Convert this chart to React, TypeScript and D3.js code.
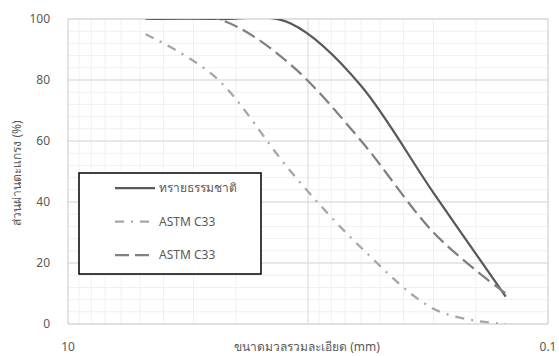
import * as d3 from "d3";
import React from "react";

const width = 559;
const height = 356;
const margin = { top: 19, right: 11, bottom: 32, left: 68 };

// sieve sizes (mm)
const sieves = [4.75, 2.36, 1.18, 0.6, 0.3, 0.15];
const naturalSand = [100, 100, 98.5, 78, 43, 9];
const astmLower = [95, 80, 50, 25, 5, 0];
const astmUpper = [100, 100, 85, 60, 30, 10];

const yTicks = [0, 20, 40, 60, 80, 100];
const xLabels = [10, 0.1];

const series = [
  { name: "ทรายธรรมชาติ", values: naturalSand, color: "#595959", dash: "none" },
  { name: "ASTM C33", values: astmLower, color: "#a6a6a6", dash: "9,7,2,7" },
  { name: "ASTM C33", values: astmUpper, color: "#808080", dash: "14,6" },
];

const font = "Tahoma, 'Noto Sans', 'DejaVu Sans', sans-serif";

const App = () => {
  const x = d3
    .scaleLog()
    .domain([10, 0.1])
    .range([margin.left, width - margin.right]);
  const y = d3
    .scaleLinear()
    .domain([0, 100])
    .range([height - margin.bottom, margin.top]);

  // minor grid on the log axis
  const minorX: number[] = [];
  [1, 0.1].forEach((dec) => {
    for (let k = 2; k <= 9; k++) minorX.push(k * dec);
  });
  const minorY = d3.range(0, 101, 4);

  // excel-style smoothing, overshoot is cut by the plot area
  const line = d3
    .line<[number, number]>()
    .x((d) => x(d[0]))
    .y((d) => y(d[1]))
    .curve(d3.curveCardinal.tension(0));

  const pw = width - margin.left - margin.right;
  const ph = height - margin.top - margin.bottom;
  const legend = { x: 79, y: 173, w: 182, h: 101 };

  return (
    <svg width={width} height={height} style={{ position: "absolute", left: 0, top: 0 }}>
      <defs>
        <clipPath id="plot">
          <rect x={margin.left} y={margin.top} width={pw} height={ph} />
        </clipPath>
      </defs>
      <rect width={width} height={height} fill="#fff" />
      {minorY.map((v) => (
        <line key={"my" + v} x1={margin.left} x2={width - margin.right} y1={y(v)} y2={y(v)} stroke="#f0f0f0" />
      ))}
      {minorX.map((v) => (
        <line key={"mx" + v} x1={x(v)} x2={x(v)} y1={margin.top} y2={height - margin.bottom} stroke="#f0f0f0" />
      ))}
      {yTicks.map((v) => (
        <line key={"gy" + v} x1={margin.left} x2={width - margin.right} y1={y(v)} y2={y(v)} stroke="#d9d9d9" />
      ))}
      {[10, 1, 0.1].map((v) => (
        <line key={"gx" + v} x1={x(v)} x2={x(v)} y1={margin.top} y2={height - margin.bottom} stroke="#d9d9d9" />
      ))}
      <rect x={margin.left} y={margin.top} width={pw} height={ph} fill="none" stroke="#d9d9d9" />
      {yTicks.map((v) => (
        <text key={"ty" + v} x={50} y={y(v)} dy="0.35em" textAnchor="end" fontSize={12} fill="#595959" fontFamily={font}>
          {v}
        </text>
      ))}
      {xLabels.map((v) => (
        <text key={"tx" + v} x={x(v)} y={351} textAnchor="middle" fontSize={12} fill="#595959" fontFamily={font}>
          {v}
        </text>
      ))}
      <text x={307} y={351} textAnchor="middle" fontSize={12} fill="#595959" fontFamily={font}>
        ขนาดมวลรวมละเอียด (mm)
      </text>
      <text
        transform={`translate(21, 173) rotate(-90)`}
        textAnchor="middle"
        fontSize={12}
        fill="#595959"
        fontFamily={font}
      >
        ส่วนผ่านตะแกรง (%)
      </text>
      <g clipPath="url(#plot)">
        {series.map((s, i) => (
          <path
            key={"s" + i}
            d={line(sieves.map((sv, j) => [sv, s.values[j]] as [number, number])) || ""}
            fill="none"
            stroke={s.color}
            strokeWidth={2.25}
            strokeDasharray={s.dash}
          />
        ))}
      </g>
      <rect x={legend.x} y={legend.y} width={legend.w} height={legend.h} fill="#fff" stroke="#000" strokeWidth={1.5} />
      {series.map((s, i) => {
        const ly = 188 + i * 33.5;
        return (
          <g key={"l" + i}>
            <line x1={115} x2={155} y1={ly} y2={ly} stroke={s.color} strokeWidth={2.25} strokeDasharray={s.dash} />
            <text x={159} y={ly} dy="0.35em" fontSize={12} fill="#595959" fontFamily={font}>
              {s.name}
            </text>
          </g>
        );
      })}
    </svg>
  );
};

export default App;
